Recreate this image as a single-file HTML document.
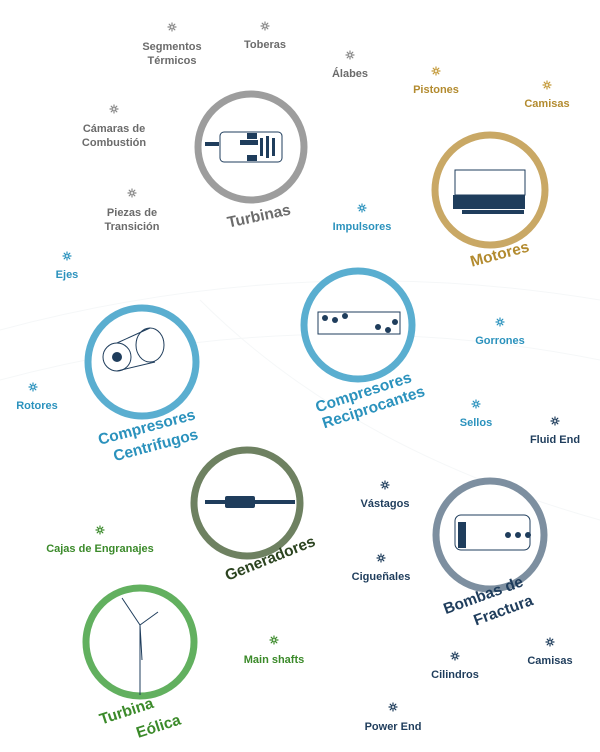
<!DOCTYPE html>
<html><head><meta charset="utf-8"><style>
html,body{margin:0;padding:0;background:#fff}
svg{display:block}
text{font-family:"Liberation Sans",sans-serif;font-weight:bold}
.s{font-size:11px;text-anchor:middle}
.b{font-size:15.5px;text-anchor:middle}
.g{fill:#6b6b6b}.o{fill:#b38b2f}.c{fill:#2b92bd}.n{fill:#1f3d5c}.gr{fill:#3b8a2a}.dg{fill:#2c4420}
.st{stroke-width:1.2;stroke-linecap:round}
</style></head><body>
<svg width="600" height="752" viewBox="0 0 600 752" xmlns="http://www.w3.org/2000/svg">
<defs>
<g id="star"><path class="st" d="M0,-4V-1.5M0,4V1.5M-4,0H-1.5M4,0H1.5M-2.8,-2.8L-1.1,-1.1M2.8,2.8L1.1,1.1M-2.8,2.8L-1.1,1.1M2.8,-2.8L1.1,-1.1"/></g>
</defs>
<g fill="none" stroke="#f5f7f8" stroke-width="1">
<path d="M0,330 Q300,250 600,300"/><path d="M0,380 Q300,300 600,360"/><path d="M200,300 Q350,450 600,520"/>
</g>
<g stroke="#888"><use href="#star" x="172" y="27"/><use href="#star" x="265" y="26"/><use href="#star" x="350" y="55"/><use href="#star" x="114" y="109"/><use href="#star" x="132" y="193"/></g>
<g stroke="#c49a3a"><use href="#star" x="436" y="71"/><use href="#star" x="547" y="85"/></g>
<g stroke="#2b92bd"><use href="#star" x="362" y="208"/><use href="#star" x="67" y="256"/><use href="#star" x="500" y="322"/><use href="#star" x="33" y="387"/><use href="#star" x="476" y="404"/></g>
<g stroke="#1f3d5c"><use href="#star" x="555" y="421"/><use href="#star" x="385" y="485"/><use href="#star" x="381" y="558"/><use href="#star" x="550" y="642"/><use href="#star" x="455" y="656"/><use href="#star" x="393" y="707"/></g>
<g stroke="#3b8a2a"><use href="#star" x="100" y="530"/><use href="#star" x="274" y="640"/></g>
<text class="s g" x="172" y="50">Segmentos</text><text class="s g" x="172" y="64">Térmicos</text>
<text class="s g" x="265" y="48">Toberas</text>
<text class="s g" x="350" y="77">Álabes</text>
<text class="s o" x="436" y="93">Pistones</text>
<text class="s o" x="547" y="107">Camisas</text>
<text class="s g" x="114" y="132">Cámaras de</text><text class="s g" x="114" y="146">Combustión</text>
<text class="s g" x="132" y="216">Piezas de</text><text class="s g" x="132" y="230">Transición</text>
<text class="s c" x="362" y="230">Impulsores</text>
<text class="s c" x="67" y="278">Ejes</text>
<text class="s c" x="500" y="344">Gorrones</text>
<text class="s c" x="37" y="409">Rotores</text>
<text class="s c" x="476" y="426">Sellos</text>
<text class="s n" x="555" y="443">Fluid End</text>
<text class="s n" x="385" y="507">Vástagos</text>
<text class="s gr" x="100" y="552">Cajas de Engranajes</text>
<text class="s n" x="381" y="580">Cigueñales</text>
<text class="s gr" x="274" y="663">Main shafts</text>
<text class="s n" x="550" y="664">Camisas</text>
<text class="s n" x="455" y="678">Cilindros</text>
<text class="s n" x="393" y="730">Power End</text>
<g fill="#fff" stroke-width="7">
<circle cx="251" cy="147" r="53" stroke="#9d9d9d"/>
<circle cx="490" cy="190" r="55" stroke="#c9a865"/>
<circle cx="358" cy="325" r="54" stroke="#5aaed0"/>
<circle cx="142" cy="362" r="54" stroke="#5aaed0"/>
<circle cx="247" cy="503" r="53" stroke="#6e8161"/>
<circle cx="490" cy="535" r="54" stroke="#7d8fa0"/>
<circle cx="140" cy="642" r="54" stroke="#62b05f"/>
</g>
<g fill="#1f3d5c">
<rect x="205" y="142" width="14" height="4"/><rect x="247" y="133" width="10" height="6"/><rect x="247" y="155" width="10" height="6"/>
<rect x="240" y="140" width="18" height="5"/><rect x="260" y="138" width="3" height="18"/><rect x="266" y="136" width="3" height="22"/><rect x="272" y="138" width="3" height="18"/>
<rect x="453" y="195" width="72" height="14"/><rect x="462" y="210" width="62" height="4"/>
<circle cx="117" cy="357" r="5"/>
<rect x="205" y="500" width="90" height="4"/><rect x="225" y="496" width="30" height="12" rx="2"/>
<circle cx="325" cy="318" r="3"/><circle cx="335" cy="320" r="3"/><circle cx="378" cy="327" r="3"/><circle cx="388" cy="330" r="3"/><circle cx="395" cy="322" r="3"/><circle cx="345" cy="316" r="3"/>
<rect x="458" y="522" width="8" height="26"/><circle cx="508" cy="535" r="3"/><circle cx="518" cy="535" r="3"/><circle cx="528" cy="535" r="3"/>
</g>
<g fill="none" stroke="#1f3d5c" stroke-width="1">
<rect x="220" y="132" width="62" height="30" rx="4"/>
<rect x="455" y="170" width="70" height="25"/>
<circle cx="117" cy="357" r="14"/><ellipse cx="150" cy="345" rx="14" ry="17"/><path d="M117,343 L150,328 M117,371 L155,362"/>
<rect x="318" y="312" width="82" height="22"/>
<rect x="455" y="515" width="75" height="35" rx="6"/>
<path d="M140,695 V625 M140,625 L122,598 M140,625 L158,612 M140,625 L142,660"/>
</g>
<text class="b g" transform="translate(260,221) rotate(-12)">Turbinas</text>
<text class="b o" transform="translate(501,259) rotate(-15)">Motores</text>
<text class="b c" transform="translate(365,397) rotate(-18)">Compresores</text>
<text class="b c" transform="translate(375,412) rotate(-18)">Reciprocantes</text>
<text class="b c" transform="translate(148,432) rotate(-15)">Compresores</text>
<text class="b c" transform="translate(157,450) rotate(-15)">Centrifugos</text>
<text class="b dg" transform="translate(272,563) rotate(-22)">Generadores</text>
<text class="b n" transform="translate(485,600) rotate(-20)">Bombas de</text>
<text class="b n" transform="translate(505,615) rotate(-20)">Fractura</text>
<text class="b gr" transform="translate(128,716) rotate(-18)">Turbina</text>
<text class="b gr" transform="translate(160,731) rotate(-18)">Eólica</text>
</svg>
</body></html>
